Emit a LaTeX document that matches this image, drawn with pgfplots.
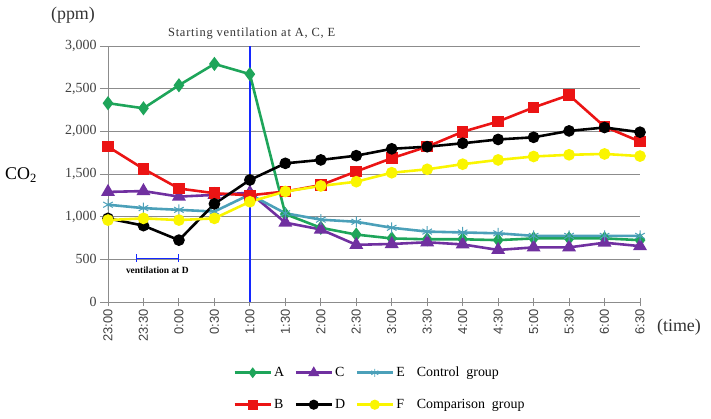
\documentclass[border=0pt]{standalone}
\usepackage{pgfplots}
\pgfplotsset{compat=1.18}
\usepackage{fontspec}
\setmainfont{Liberation Serif}
\newfontfamily\tickfont{Liberation Sans}
\newfontfamily\spacedfont[LetterSpace=6]{Liberation Serif}
\definecolor{cA}{RGB}{30,165,90}
\definecolor{cC}{RGB}{112,48,160}
\definecolor{cE}{RGB}{75,160,185}
\definecolor{cB}{RGB}{235,20,20}
\definecolor{cF}{RGB}{250,245,0}
\definecolor{gridc}{RGB}{140,140,140}
\definecolor{vblue}{RGB}{20,40,255}
\begin{document}
\begin{tikzpicture}
\useasboundingbox (-108bp,-117bp) rectangle (603bp,302bp);
\begin{axis}[
  at={(0bp,0bp)}, anchor=south west,
  scale only axis, width=532bp, height=256bp,
  xmin=0, xmax=15, ymin=0, ymax=3000,
  clip=false,
  axis x line=bottom, axis y line=left,
  axis line style={gridc, -, line width=0.9pt},
  xtick={0,...,15},
  xticklabels={23:00,23:30,0:00,0:30,1:00,1:30,2:00,2:30,3:00,3:30,4:00,4:30,5:00,5:30,6:00,6:30},
  x tick label style={rotate=90, anchor=east, font=\tickfont\fontsize{13}{13}\selectfont, text=black!75},
  ytick={0,500,...,3000},
  y tick label style={font=\fontsize{14}{14}\selectfont, text=black!75},
  /pgf/number format/assume math mode=true,
  /pgf/number format/1000 sep={,},
  x tick style={gridc, line width=0.9pt},
  y tick style={gridc, line width=0.9pt},
  xtick align=center, ytick align=outside,
  major tick length=8bp,
  ymajorgrids, grid style={gridc, line width=0.8pt},
  legend columns=4,
  legend style={draw=none, fill=none, at={(0.235,-0.246)}, anchor=north west,
    font=\fontsize{14}{14}\selectfont, inner sep=0pt, row sep=17bp,
    /tikz/every even column/.append style={column sep=8bp}},
  legend cell align=left,
  legend image code/.code={\draw[mark repeat=2, mark phase=2, line width=3pt, #1] plot coordinates {(0bp,0bp) (18bp,0bp) (36bp,0bp)};},
]
\addplot[color=vblue, line width=1.6pt, mark=none, forget plot] coordinates {(4,0) (4,3000)};
% A
\addplot[cA, line width=2.6pt, mark=diamond*, mark size=5bp, forget plot] coordinates {
(0,2330)(1,2270)(2,2540)(3,2790)(4,2670)(5,1030)(6,870)(7,790)(8,745)(9,735)(10,735)(11,725)(12,745)(13,745)(14,745)(15,725)};
% C
\addplot[cC, line width=2.6pt, mark=triangle*, mark size=5.5bp, forget plot] coordinates {
(0,1290)(1,1300)(2,1235)(3,1255)(4,1280)(5,930)(6,850)(7,670)(8,680)(9,700)(10,675)(11,610)(12,640)(13,640)(14,695)(15,655)};
% E
\addplot[cE, line width=2.6pt, mark=asterisk, mark size=5.5bp, mark options={line width=1pt}, forget plot] coordinates {
(0,1140)(1,1100)(2,1080)(3,1060)(4,1260)(5,1040)(6,965)(7,940)(8,870)(9,825)(10,815)(11,805)(12,775)(13,775)(14,775)(15,775)};
% B
\addplot[cB, line width=2.6pt, mark=square*, mark size=4.5bp, forget plot] coordinates {
(0,1820)(1,1560)(2,1330)(3,1275)(4,1250)(5,1295)(6,1370)(7,1530)(8,1685)(9,1820)(10,1995)(11,2115)(12,2280)(13,2425)(14,2055)(15,1880)};
% D
\addplot[black, line width=2.6pt, mark=*, mark size=4.5bp, forget plot] coordinates {
(0,980)(1,895)(2,725)(3,1150)(4,1430)(5,1625)(6,1665)(7,1715)(8,1795)(9,1820)(10,1860)(11,1905)(12,1930)(13,2005)(14,2045)(15,1990)};
% F
\addplot[cF, line width=2.6pt, mark=*, mark size=4.5bp, forget plot] coordinates {
(0,960)(1,980)(2,960)(3,980)(4,1175)(5,1295)(6,1360)(7,1410)(8,1515)(9,1555)(10,1615)(11,1665)(12,1705)(13,1725)(14,1735)(15,1710)};

\addlegendimage{cA, mark=diamond*, mark size=3bp}
\addlegendentry{A}
\addlegendimage{cC, mark=triangle*, mark size=3.5bp}
\addlegendentry{C}
\addlegendimage{cE, mark=asterisk, mark size=4bp, mark options={line width=0.8pt}}
\addlegendentry{E}
\addlegendimage{empty legend}
\addlegendentry{Control\ \ group}
\addlegendimage{cB, mark=square*, mark size=3.5bp}
\addlegendentry{B}
\addlegendimage{black, mark=*, mark size=3.5bp}
\addlegendentry{D}
\addlegendimage{cF, mark=*, mark size=3.5bp}
\addlegendentry{F}
\addlegendimage{empty legend}
\addlegendentry{Comparison\ \ group}

\node[font=\spacedfont\fontsize{12.5}{12.5}\selectfont, text=black!80] at (axis cs:4.05,3150) {Starting ventilation at A, C, E};
\draw[vblue, line width=1pt, |-|] (axis cs:0.78,515) -- (axis cs:2,515);
\node[font=\fontsize{9.5}{10}\selectfont\bfseries] at (axis cs:1.39,370) {ventilation at D};
\end{axis}
\node[font=\fontsize{18}{18}\selectfont, text=black!80] at (-35bp,287bp) {(ppm)};
\node[font=\fontsize{18}{18}\selectfont] at (-87bp,127bp) {CO\textsubscript{2}};
\node[font=\fontsize{18}{18}\selectfont, text=black!80] at (571bp,-25bp) {(time)};
\end{tikzpicture}
\end{document}
